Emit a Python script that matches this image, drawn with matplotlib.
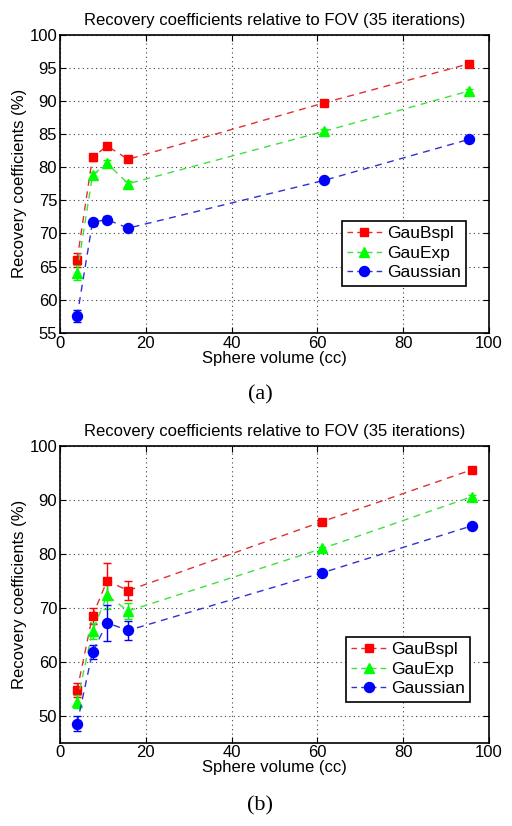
import numpy as np
import matplotlib
matplotlib.use("Agg")
import matplotlib.pyplot as plt
from matplotlib.lines import Line2D

plt.rcParams['font.family'] = ['Liberation Sans', 'DejaVu Sans']

# sphere volumes (cc)
vol_a = [4.0, 7.6, 11.0, 15.9, 61.5, 95.3]
vol_b = [4.0, 7.6, 11.0, 15.9, 61.2, 96.0]

# panel (a) recovery coefficients (%)
bspl_a = [66.0, 81.5, 83.2, 81.2, 89.7, 95.6]
exp_a = [64.1, 78.8, 80.6, 77.5, 85.4, 91.5]
gauss_a = [57.5, 71.7, 72.1, 70.8, 78.0, 84.2]
bspl_a_err = [1.0, 0.5, 0.5, 0.4, 0.3, 0.3]
exp_a_err = [1.1, 0.5, 0.5, 0.4, 0.3, 0.3]
gauss_a_err = [0.9, 0.5, 0.5, 0.4, 0.3, 0.3]

# panel (b) recovery coefficients (%)
bspl_b = [54.7, 68.5, 75.0, 73.2, 86.0, 95.6]
exp_b = [52.6, 65.7, 72.3, 69.4, 81.0, 90.6]
gauss_b = [48.5, 61.8, 67.2, 65.8, 76.5, 85.2]
bspl_b_err = [1.3, 1.5, 3.3, 1.8, 0.3, 0.3]
exp_b_err = [1.2, 1.5, 2.5, 1.5, 0.3, 0.3]
gauss_b_err = [1.4, 1.3, 3.4, 1.8, 0.3, 0.3]

labels = ["GauBspl", "GauExp", "Gaussian"]
colours = ['#ff0000', '#00ff00', '#0000ff']
line_colours = ['#e03030', '#40e040', '#3030d0']
markers = ['s', '^', 'o']
msizes = [5.8, 7.5, 7.2]

title = "Recovery coefficients relative to FOV (35 iterations)"

fig = plt.figure(figsize=(5.12, 8.26), dpi=100)
ax_a = fig.add_axes([0.117, 0.597, 0.838, 0.361])
ax_b = fig.add_axes([0.117, 0.101, 0.838, 0.359])


def draw(ax, vol, series, errs, ylim, yticks, legend_pos):
    handles = []
    for i in range(3):
        ax.errorbar(vol, series[i], yerr=errs[i], color=line_colours[i],
                    ls=(0, (5, 4)), lw=1, marker=markers[i], ms=msizes[i],
                    mfc=colours[i], mec=colours[i], ecolor=colours[i],
                    elinewidth=1, capsize=3)
        handles.append(Line2D([], [], color=line_colours[i], ls=(0, (4, 3)), lw=1,
                              marker=markers[i], ms=msizes[i], mfc=colours[i],
                              mec=colours[i], label=labels[i]))
    ax.set_xlim(0, 100)
    ax.set_ylim(*ylim)
    ax.set_xticks([0, 20, 40, 60, 80, 100])
    ax.set_yticks(yticks)
    ax.grid(True, ls=(0, (1, 3)), color='#404040', lw=0.8)
    ax.tick_params(direction='in', length=4, labelsize=12, top=True, right=True, pad=2)
    for s in ax.spines.values():
        s.set_linewidth(1.2)
    ax.set_title(title, fontsize=12, pad=7)
    ax.set_xlabel("Sphere volume (cc)", fontsize=12, labelpad=0)
    ax.set_ylabel("Recovery coefficients (%)", fontsize=12, labelpad=2)
    leg = ax.legend(handles=handles, loc='upper left', bbox_to_anchor=legend_pos,
                    fontsize=12.5, fancybox=False, edgecolor='black', framealpha=1,
                    handlelength=2.0, handletextpad=0.3, borderpad=0.3,
                    labelspacing=0.25, borderaxespad=0)
    leg.get_frame().set_linewidth(1.2)


draw(ax_a, vol_a, [bspl_a, exp_a, gauss_a], [bspl_a_err, exp_a_err, gauss_a_err],
     (55, 100), np.arange(55, 101, 5), (0.657, 0.375))
draw(ax_b, vol_b, [bspl_b, exp_b, gauss_b], [bspl_b_err, exp_b_err, gauss_b_err],
     (45, 100), np.arange(50, 101, 10), (0.667, 0.356))

fig.text(0.508, 0.522, "(a)", ha='center', va='center', fontsize=16, family='Liberation Serif')
fig.text(0.508, 0.024, "(b)", ha='center', va='center', fontsize=16, family='Liberation Serif')

plt.savefig("out.png", dpi=100)
